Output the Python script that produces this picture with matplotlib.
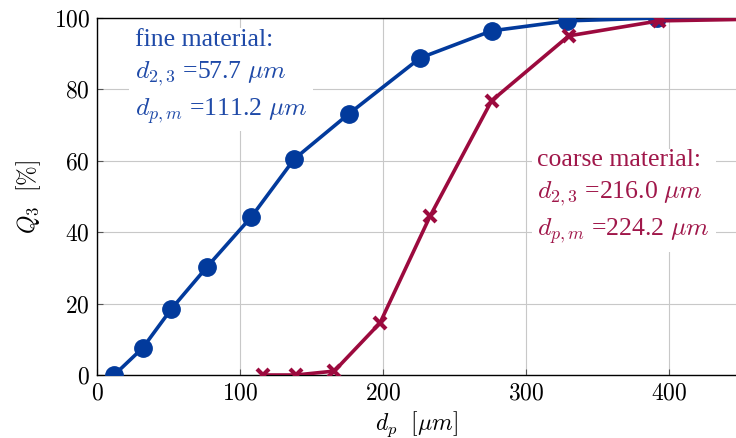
import matplotlib as mpl
import matplotlib.pyplot as plt

mpl.rcParams['font.family'] = 'cmr10'
mpl.rcParams['mathtext.fontset'] = 'cm'
mpl.rcParams['axes.formatter.use_mathtext'] = True

# fine material
fine_d = [12, 32, 52, 77, 108, 138, 176, 226, 276, 329, 392, 450]
fine_q = [0, 7.6, 18.5, 30.3, 44.3, 60.5, 73.1, 88.8, 96.4, 99.2, 100, 100]

# coarse material
coarse_d = [116, 139, 166, 198, 233, 276, 330, 393, 450]
coarse_q = [0, 0, 1.1, 14.6, 44.5, 76.8, 95.0, 99.2, 99.6]

blue = '#023a9c'
red = '#9c0a3e'
blue_txt = '#1f4aa8'
red_txt = '#a0174a'

fig = plt.figure(figsize=(7.36, 4.38), dpi=100)
ax = fig.add_axes([0.1318, 0.1438, 0.8682, 0.8151])

ax.plot(fine_d[:-1], fine_q[:-1], color=blue, lw=2.6, marker='o', ms=12.5, zorder=3)
ax.plot(fine_d[-2:], fine_q[-2:], color=blue, lw=2.6, zorder=3)
ax.plot(coarse_d[:-1], coarse_q[:-1], color=red, lw=2.6, marker='x', ms=8, mew=3, zorder=4)
ax.plot(coarse_d[-2:], coarse_q[-2:], color=red, lw=2.6, zorder=4)

ax.set_xlim(0, 447)
ax.set_ylim(0, 100)
ax.set_xticks([0, 100, 200, 300, 400])
ax.set_yticks([0, 20, 40, 60, 80, 100])
ax.grid(True, color='#c8c8c8', lw=0.8)
ax.tick_params(direction='in', length=4, labelsize=17, color='#555555', pad=5)
ax.spines['right'].set_visible(False)
for s in ['left', 'bottom', 'top']:
    ax.spines[s].set_linewidth(1.0)

ax.set_xlabel(r'$d_p\ \ [\mu m]$', fontsize=17, labelpad=4)
ax.set_ylabel(r'$Q_3\ \ [\%]$', fontsize=17, labelpad=8)

box = dict(facecolor='white', edgecolor='none', pad=4)
ax.text(26.5, 97.0,
        'fine material:\n' + r'$d_{2,3}$ =57.7 $\mu m$' + '\n' + r'$d_{p,m}$ =111.2 $\mu m$',
        color=blue_txt, fontsize=18.5, family='Liberation Serif', va='top', ha='left',
        linespacing=1.42, bbox=box, zorder=5)
ax.text(308, 63.3,
        'coarse material:\n' + r'$d_{2,3}$ =216.0 $\mu m$' + '\n' + r'$d_{p,m}$ =224.2 $\mu m$',
        color=red_txt, fontsize=18.5, family='Liberation Serif', va='top', ha='left',
        linespacing=1.42, bbox=box, zorder=5)

fig.savefig('out.png', dpi=100)
